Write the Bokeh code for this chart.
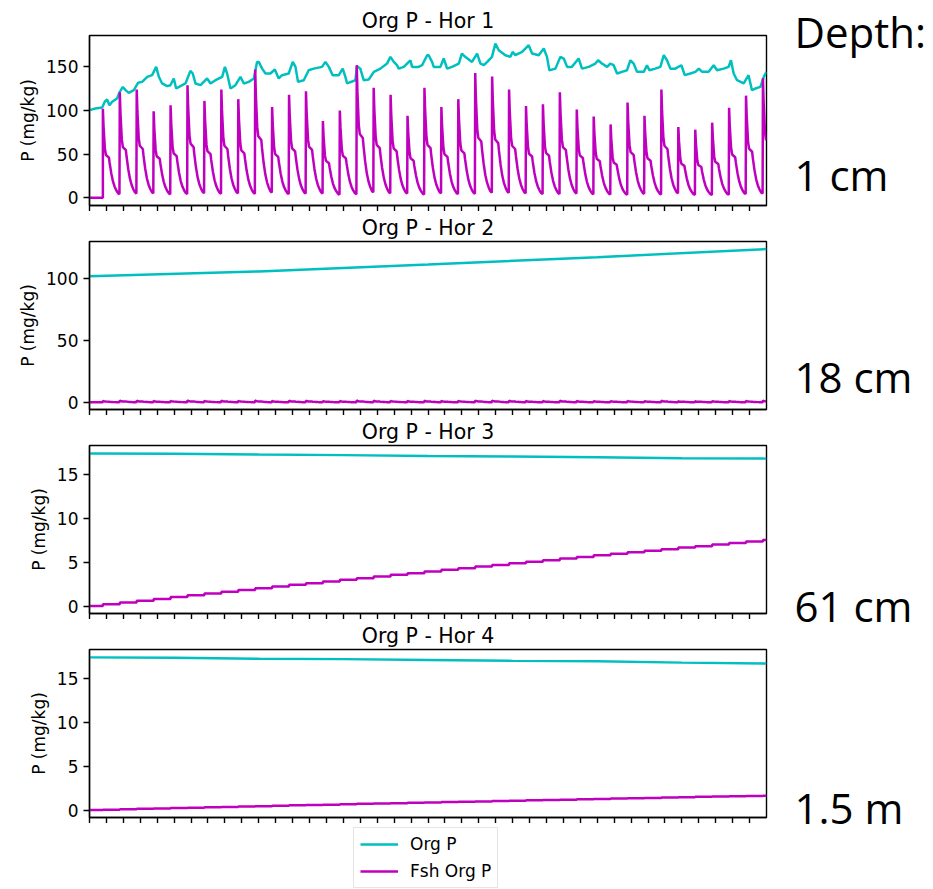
from bokeh.plotting import figure
from bokeh.models import Range1d, FixedTicker, Legend, LegendItem, Label
from bokeh.layouts import row, column
from bokeh.embed import file_html
from bokeh.resources import INLINE

CYAN = "#00bfbf"
MAGENTA = "#bf00bf"
FONT = "DejaVu Sans"

# ---------------- data ----------------
titles = ["Org P - Hor 1", "Org P - Hor 2", "Org P - Hor 3", "Org P - Hor 4"]
depth_header = "Depth:"
depth_labels = ["1 cm", "18 cm", "61 cm", "1.5 m"]
series_names = ["Org P", "Fsh Org P"]

x_ticks = list(range(40))
y_ticks = [[0, 50, 100, 150], [0, 50, 100], [0, 5, 10, 15], [0, 5, 10, 15]]
y_limits = [(-9.0, 186.0), (-5.8, 129.6), (-0.85, 18.35), (-0.85, 18.35)]

# Hor 1 - Org P (cyan), time / value pairs
hor1_org_t = [0, 0.35, 0.75, 0.9, 1.04, 1.18, 1.34, 1.63, 1.79, 1.97, 2.13, 2.32, 2.62, 2.87, 3.11,
              3.41, 3.7, 3.94, 4.1, 4.29, 4.59, 4.78, 4.98, 5.12, 5.37, 5.67, 5.96, 6.1, 6.26, 6.56,
              6.95, 7.15, 7.44, 7.84, 8.0, 8.13, 8.33, 8.62, 8.92, 9.12, 9.41, 9.71, 9.9,
              10.0, 10.2, 10.4, 10.69, 10.95, 11.18, 11.38, 11.77, 12.01, 12.17, 12.32, 12.66, 12.95,
              13.25, 13.74, 13.94, 14.14, 14.37, 14.73, 14.96, 15.12, 15.22, 15.71, 15.81, 16.0, 16.2,
              16.5, 16.8, 17.19, 17.58, 17.78, 17.98, 18.17, 18.27, 18.57, 18.96, 19.06, 19.45, 19.65,
              19.95, 20.04, 20.24, 20.34, 20.73, 20.93, 21.13, 21.42, 21.82, 22.0, 22.2, 22.6, 22.9,
              23.1, 23.3, 23.5, 23.78, 23.98, 24.18, 24.57, 24.87, 25.0, 25.16, 25.56, 25.75, 25.95,
              26.15, 26.54, 26.84, 27.03, 27.17, 27.53, 27.82, 28.02, 28.22, 28.5, 28.9, 29.1, 29.5,
              29.89, 30.05, 30.28, 30.58, 30.77, 30.97, 31.17, 31.46, 31.76, 31.96, 32.15, 32.35,
              32.75, 32.94, 33.08, 33.43, 33.73, 33.93, 34.12, 34.32, 34.61, 34.97, 35.17, 35.5, 35.8,
              36.0, 36.2, 36.58, 36.88, 37.08, 37.47, 37.76, 37.9, 38.06, 38.26, 38.65, 38.94, 39.14,
              39.34, 39.64, 39.84, 40.0]
hor1_org_p = [100.4, 102.3, 103.4, 110, 112.6, 106, 110, 113.8, 121.4, 127, 123.3, 120.2, 123.3, 131.7, 132.8,
              138.6, 140.5, 150, 138.6, 131, 127.9, 129, 136.7, 125.2, 127.9, 131, 145.4, 142.4, 131, 129,
              136.7, 131, 134.7, 138.6, 150, 142.4, 125.2, 129, 138.6, 131, 132.8, 136.7, 155.7,
              155.7, 148, 142.4, 142.4, 147, 136.7, 140.5, 142.4, 155.7, 150, 132.8, 134.7, 146.2,
              148, 150, 155.7, 150, 140.5, 140.5, 148, 138.6, 131, 134.7, 150.8, 148, 134.7,
              135.5, 144.3, 148, 153.8, 161.5, 155.7, 151.9, 148, 150, 157.6, 150, 150, 151.9,
              163.4, 163.4, 155.7, 150, 150, 159.6, 148, 150, 153.8, 165.3, 161.5, 155.7, 165.3,
              153.8, 151.9, 155.7, 161.5, 176.7, 169.1, 163.4, 161.5, 167.2, 163.4, 167.2, 171, 174.8,
              165.3, 163.4, 171, 161.5, 146.2, 148, 161.5, 159.6, 150, 150, 159.6, 148, 150,
              153.8, 157.6, 153.8, 150, 153.8, 151.9, 142.4, 144.3, 146.2, 157.6, 153.8, 144.3,
              144.3, 151.9, 146.2, 148, 150, 163.4, 157.6, 148, 148, 151.9, 140.5, 142.4, 144.3,
              148, 144.3, 144.3, 151.9, 146.2, 148, 150, 157.6, 142.4, 134.7, 131, 140.5, 123.3,
              125.2, 127.1, 138.6, 144.3]

# Hor 1 - Fsh Org P: first pulse time, peak of every pulse and the decay shape of one pulse
pulse_start = 0.79
hor1_fsh_peaks = [102, 121, 124, 99, 106, 129, 111, 124, 113, 147, 104, 118, 122, 88, 100, 152, 126, 118,
                  94, 126, 104, 113, 143, 139, 124, 105, 107, 121, 101, 93, 84, 109, 94, 124, 81, 78,
                  86, 103, 117, 137]
pulse_offsets = [0.0, 0.04, 0.12, 0.18, 0.36, 0.40, 0.50, 0.60, 0.70, 0.80, 0.90, 0.98]
pulse_fracs = [1.0, 0.80, 0.55, 0.48, 0.45, 0.39, 0.27, 0.18, 0.12, 0.08, 0.05, 0.04]

# Hor 2
hor2_org_t = [0, 10, 20, 30, 40]
hor2_org_p = [101.5, 105.5, 111.0, 117.0, 123.5]
hor2_fsh_peaks = [1.2, 1.4, 1.3, 1.1, 1.2, 1.5, 1.2, 1.3, 1.2, 1.5, 1.1, 1.3, 1.3, 1.0, 1.1, 1.5, 1.3, 1.2,
                  1.1, 1.3, 1.1, 1.2, 1.4, 1.4, 1.3, 1.1, 1.1, 1.3, 1.1, 1.0, 1.0, 1.2, 1.0, 1.3, 0.9, 0.9,
                  1.0, 1.1, 1.2, 1.4]

# Hor 3
hor3_org_t = [0, 5, 10, 15, 20, 25, 30, 35, 40]
hor3_org_p = [17.45, 17.42, 17.32, 17.25, 17.15, 17.10, 17.02, 16.90, 16.85]
hor3_fsh_levels = [0, 0.21, 0.41, 0.62, 0.82, 1.03, 1.23, 1.44, 1.64, 1.85, 2.05,
                   2.24, 2.43, 2.62, 2.81, 3.00, 3.19, 3.38, 3.57, 3.76, 3.95,
                   4.14, 4.32, 4.51, 4.69, 4.88, 5.06, 5.25, 5.43, 5.62, 5.80,
                   5.98, 6.15, 6.33, 6.50, 6.68, 6.85, 7.03, 7.20, 7.38, 7.55]

# Hor 4
hor4_org_t = [0, 5, 10, 15, 20, 25, 30, 35, 40]
hor4_org_p = [17.45, 17.40, 17.30, 17.25, 17.15, 17.05, 17.00, 16.85, 16.75]
hor4_fsh_levels = [0, 0.05, 0.09, 0.14, 0.18, 0.23, 0.27, 0.32, 0.36, 0.41, 0.45,
                   0.49, 0.54, 0.58, 0.62, 0.66, 0.71, 0.75, 0.79, 0.83, 0.87,
                   0.91, 0.95, 0.99, 1.03, 1.07, 1.11, 1.15, 1.19, 1.23, 1.27,
                   1.31, 1.35, 1.39, 1.43, 1.47, 1.51, 1.55, 1.58, 1.62, 1.65]
t_end = 40.0


def pulse_series(peaks):
    xs, ys = [0.0, pulse_start], [0.0, 0.0]
    for k, pk in enumerate(peaks):
        t0 = pulse_start + k
        for off, fr in zip(pulse_offsets, pulse_fracs):
            t = t0 + off
            if t > t_end:
                break
            xs.append(t)
            ys.append(pk * fr)
    return xs, ys


def stair_series(levels):
    xs, ys = [0.0], [levels[0]]
    for k in range(1, len(levels)):
        t = pulse_start + k - 1
        xs += [t, t]
        ys += [levels[k - 1], levels[k]]
    xs.append(t_end)
    ys.append(levels[-1])
    return xs, ys


series = [
    (hor1_org_t, hor1_org_p) + pulse_series(hor1_fsh_peaks),
    (hor2_org_t, hor2_org_p) + pulse_series(hor2_fsh_peaks),
    (hor3_org_t, hor3_org_p) + stair_series(hor3_fsh_levels),
    (hor4_org_t, hor4_org_p) + stair_series(hor4_fsh_levels),
]

TOPS = [35, 30, 30, 30]          # title panel is ~30 px tall for the lower panels
STANDOFFS = [6, 4, 4, 4]
FRAME_HS = [170, 168, 168, 168]
BOTTOM = 6
FRAME_W = 677
LEFT = 89
RIGHT = 5
PAGE_H = 889
PAGE_W = 933
LEGEND_H = PAGE_H - sum(t + h + BOTTOM for t, h in zip(TOPS, FRAME_HS))


def style_title(p, text, standoff):
    p.title.text = text
    p.title.align = "center"
    p.title.text_font = FONT
    p.title.text_font_size = "20.5px"
    p.title.text_font_style = "normal"
    p.title.text_color = "black"
    p.title.standoff = standoff


def make_panel(i):
    ox, oy, fx, fy = series[i]
    p = figure(frame_width=FRAME_W, frame_height=FRAME_HS[i],
               x_range=Range1d(0, t_end), y_range=Range1d(*y_limits[i]),
               output_backend="svg", toolbar_location=None,
               min_border_left=LEFT, min_border_right=RIGHT,
               min_border_top=TOPS[i], min_border_bottom=BOTTOM)
    style_title(p, titles[i], STANDOFFS[i])
    p.grid.visible = False
    p.outline_line_color = "black"
    p.outline_line_width = 1.4
    p.outline_line_alpha = 1.0

    p.xaxis.ticker = FixedTicker(ticks=x_ticks)
    p.xaxis.major_label_text_font_size = "0px"
    p.xaxis.major_label_text_color = None
    p.xaxis.major_label_standoff = 0
    p.yaxis.ticker = FixedTicker(ticks=y_ticks[i])
    for ax in (p.xaxis, p.yaxis):
        ax.minor_tick_line_color = None
        ax.major_tick_in = 0
        ax.major_tick_out = 6
        ax.major_tick_line_width = 1.4
        ax.major_tick_line_color = "black"
        ax.axis_line_color = "black"
        ax.axis_line_width = 1.4
    p.yaxis.major_label_text_font = FONT
    p.yaxis.major_label_text_font_size = "17px"
    p.yaxis.major_label_text_color = "black"
    p.yaxis.major_label_standoff = 5
    p.yaxis.axis_label = "P (mg/kg)"
    p.yaxis.axis_label_text_font = FONT
    p.yaxis.axis_label_text_font_size = "17px"
    p.yaxis.axis_label_text_font_style = "normal"
    p.yaxis.axis_label_text_color = "black"
    p.yaxis.axis_label_standoff = 5

    p.line(ox, oy, line_color=CYAN, line_width=2.5)
    p.line(fx, fy, line_color=MAGENTA, line_width=2.5)
    return p


panels = [make_panel(i) for i in range(4)]

# legend strip under the last panel (frame aligned with the panels' frames)
leg_fig = figure(frame_width=FRAME_W, frame_height=LEGEND_H, x_range=Range1d(0, 1), y_range=Range1d(0, 1),
                 output_backend="svg", toolbar_location=None, title=None,
                 min_border_left=LEFT, min_border_right=RIGHT, min_border_top=0, min_border_bottom=0,
                 x_axis_location=None, y_axis_location=None)
leg_fig.grid.visible = False
leg_fig.outline_line_color = None
# legend handles, kept outside the visible range
lc = leg_fig.line([-3, -2], [-3, -2], line_color=CYAN, line_width=2.5)
lm = leg_fig.line([-3, -2], [-3, -2], line_color=MAGENTA, line_width=2.5)
legend = Legend(items=[LegendItem(label=series_names[0], renderers=[lc]),
                       LegendItem(label=series_names[1], renderers=[lm])],
                location=(353 - LEFT, 1), orientation="vertical",
                label_text_font=FONT, label_text_font_size="17px", label_text_color="black",
                glyph_width=38, glyph_height=20, label_height=20, label_standoff=12,
                padding=6, spacing=7, margin=0,
                border_line_color="#cccccc", border_line_width=1.4,
                background_fill_color="white", background_fill_alpha=1.0)
leg_fig.add_layout(legend, "center")

# depth annotations on the right (label y = vertical centre of the text)
left_w = LEFT + FRAME_W + RIGHT
side_w = PAGE_W - left_w
side = figure(width=side_w, height=PAGE_H, x_range=Range1d(0, side_w), y_range=Range1d(PAGE_H, 0),
              output_backend="svg", toolbar_location=None, min_border=0, title=None,
              x_axis_location=None, y_axis_location=None)
side.grid.visible = False
side.outline_line_color = None
side_texts = [depth_header] + depth_labels
side_centres = [31, 174, 376, 605, 807]
for txt, yc in zip(side_texts, side_centres):
    side.add_layout(Label(x=794 - left_w, y=yc, text=txt, text_font="Open Sans", text_font_size="42px",
                          text_color="black", text_baseline="middle", text_align="left"))

layout = row(column(*panels, leg_fig), side)
open("out.html", "w").write(file_html(layout, INLINE))
